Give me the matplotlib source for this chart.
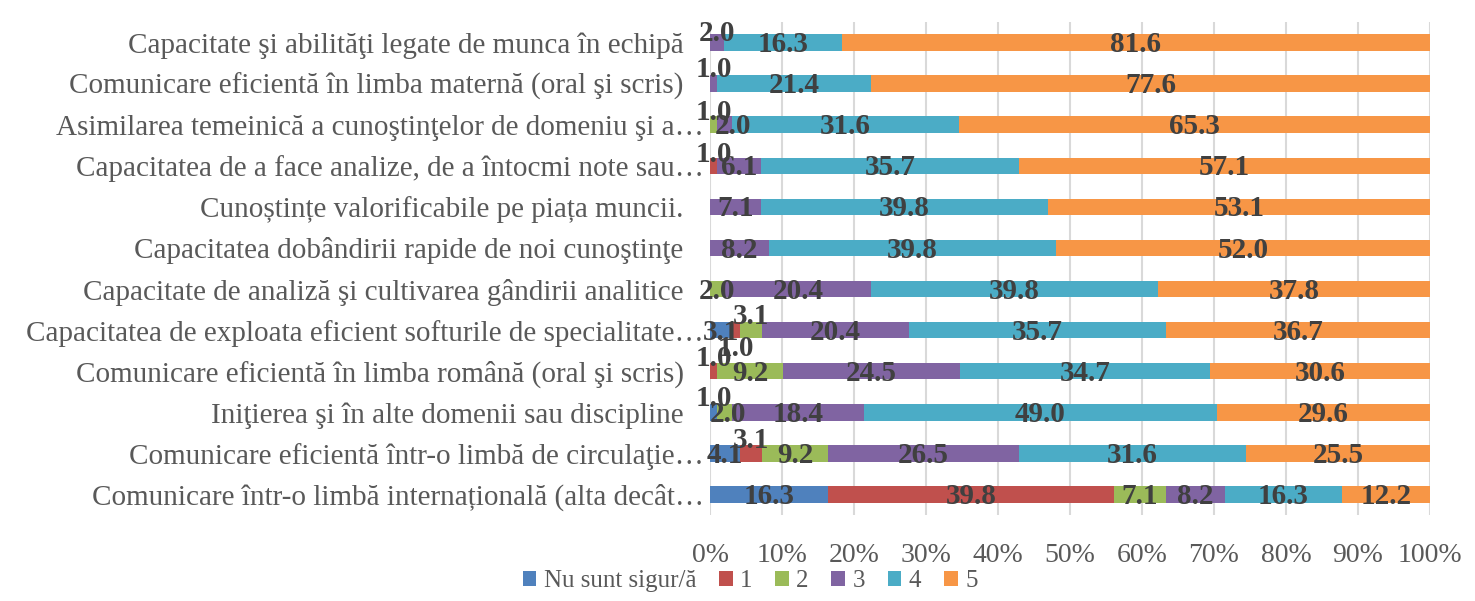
import numpy as np
import matplotlib.pyplot as plt
from matplotlib.patches import Patch
from matplotlib.transforms import ScaledTranslation

plt.rcParams['font.family'] = ['Liberation Serif', 'DejaVu Serif']

# rows from top to bottom
categories = [
    "Capacitate şi abilităţi legate de munca în echipă",
    "Comunicare eficientă în limba maternă (oral şi scris)",
    "Asimilarea temeinică a cunoştinţelor de domeniu şi a…",
    "Capacitatea de a face analize, de a întocmi note sau…",
    "Cunoștințe valorificabile pe piața muncii.",
    "Capacitatea dobândirii rapide de noi cunoştinţe",
    "Capacitate de analiză şi cultivarea gândirii analitice",
    "Capacitatea de exploata eficient softurile de specialitate…",
    "Comunicare eficientă în limba română (oral şi scris)",
    "Iniţierea şi în alte domenii sau discipline",
    "Comunicare eficientă într-o limbă de circulaţie…",
    "Comunicare într-o limbă internațională (alta decât…",
]
series_names = ["Nu sunt sigur/ă", "1", "2", "3", "4", "5"]
nu_sigur = [0, 0, 0, 0, 0, 0, 0, 3.1, 0, 1.0, 4.1, 16.3]
nota1 = [0, 0, 0, 1.0, 0, 0, 0, 1.0, 1.0, 0, 3.1, 39.8]
nota2 = [0, 0, 1.0, 0, 0, 0, 2.0, 3.1, 9.2, 2.0, 9.2, 7.1]
nota3 = [2.0, 1.0, 2.0, 6.1, 7.1, 8.2, 20.4, 20.4, 24.5, 18.4, 26.5, 8.2]
nota4 = [16.3, 21.4, 31.6, 35.7, 39.8, 39.8, 39.8, 35.7, 34.7, 49.0, 31.6, 16.3]
nota5 = [81.6, 77.6, 65.3, 57.1, 53.1, 52.0, 37.8, 36.7, 30.6, 29.6, 25.5, 12.2]

colors = ['#4F81BD', '#C0504D', '#9BBB59', '#8064A2', '#4BACC6', '#F79646']

# label nudges (row, series) -> (dx in %, dy in rows), like Excel's overlap handling
label_shift = {
    (0, 3): (0, -0.28), (1, 3): (0, -0.4), (2, 2): (0, -0.35), (2, 3): (1.2, 0),
    (3, 1): (0, -0.32), (7, 2): (0, -0.37), (7, 1): (0, 0.4), (8, 1): (0, -0.35),
    (9, 0): (0, -0.38), (9, 2): (0.5, 0), (10, 1): (0, -0.37),
}

data = np.array([nu_sigur, nota1, nota2, nota3, nota4, nota5])
shares = data / data.sum(axis=0) * 100

fig = plt.figure(figsize=(14.75, 6.01), dpi=100)
ax = fig.add_axes([0.4814, 0.1431, 0.4881, 0.8203])

y = np.arange(len(categories))
left = np.zeros(len(categories))
for k in range(len(series_names)):
    ax.barh(y, shares[k], left=left, height=0.4, color=colors[k], zorder=2)
    for i in range(len(categories)):
        if data[k, i] > 0:
            dx, dy = label_shift.get((i, k), (0, 0))
            ax.text(left[i] + shares[k, i] / 2 + dx, y[i] + dy + 0.05, f"{data[k, i]:.1f}",
                    ha='center', va='center', fontsize=21, fontweight='bold',
                    color='#404040', zorder=3)
    left += shares[k]

ax.set_xlim(0, 100)
ax.set_ylim(len(categories) - 0.5, -0.5)
ax.set_xticks(np.arange(0, 101, 10))
ax.set_xticklabels([f"{t}%" for t in range(0, 101, 10)])
ax.set_yticks(y)
ax.set_yticklabels(categories)
ax.tick_params(axis='x', length=0, pad=20, labelsize=20, labelcolor='#595959')
ax.tick_params(axis='y', length=0, pad=19, labelsize=21, labelcolor='#595959')
ax.grid(axis='x', color='#D9D9D9', linewidth=1.5, zorder=0)
ax.set_axisbelow(True)
for s in ['top', 'bottom', 'left', 'right']:
    ax.spines[s].set_visible(False)

# truncated labels run a bit past the others, as in the original
for lbl in ax.get_yticklabels():
    if lbl.get_text().endswith("…"):
        lbl.set_transform(lbl.get_transform() + ScaledTranslation(0.2, 0, fig.dpi_scale_trans))

handles = [Patch(facecolor=c, edgecolor='none') for c in colors]
fig.legend(handles, series_names, loc='center left', bbox_to_anchor=(0.339, 0.033),
           ncol=6, frameon=False, fontsize=18, labelcolor='#595959',
           handlelength=0.55, handleheight=0.55, handletextpad=0.3, columnspacing=0.9)

fig.savefig('out.png', dpi=100)
